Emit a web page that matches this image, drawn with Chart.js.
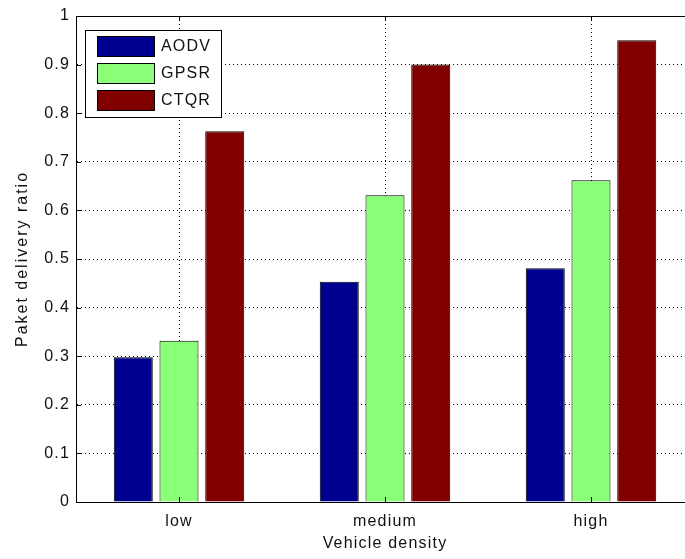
<!DOCTYPE html>
<html>
<head>
<meta charset="utf-8">
<title>Paket delivery ratio vs vehicle density</title>
<script src="https://cdn.jsdelivr.net/npm/chart.js@4/dist/chart.umd.min.js"></script>
<style>
  html, body { margin: 0; padding: 0; background: #fff; overflow: hidden; }
  /* the plot box runs a few pixels past the right edge and is cut off there */
  #frame { width: 685px; height: 559px; overflow: hidden; position: relative; }
  canvas { display: block; }
</style>
</head>
<body>
<div id="frame"><canvas id="chart" width="700" height="559"></canvas></div>
<script>
// Categories and series values
const categories = ['low', 'medium', 'high'];
const seriesNames = ['AODV', 'GPSR', 'CTQR'];
const aodv = [0.298, 0.453, 0.481];
const gpsr = [0.332, 0.631, 0.662];
const ctqr = [0.763, 0.900, 0.950];
const yTicks = [0, 0.1, 0.2, 0.3, 0.4, 0.5, 0.6, 0.7, 0.8, 0.9, 1];

const seriesColors = ['#00008F', '#8CFF78', '#800000'];
const FONT = '"Liberation Sans", Arial, Helvetica, sans-serif';
const SPACING = '1.2px';

// Axes box, inward tick marks, axis titles and boxed legend
const decorations = {
  id: 'decorations',
  beforeDraw(chart) {
    chart.ctx.letterSpacing = SPACING;
  },
  afterDraw(chart) {
    const { ctx, chartArea: a, scales } = chart;
    ctx.save();
    ctx.letterSpacing = SPACING;
    ctx.strokeStyle = '#000';
    ctx.lineWidth = 1;
    ctx.setLineDash([]);
    // box
    ctx.strokeRect(Math.round(a.left) + 0.5, Math.round(a.top) + 0.5,
                   Math.round(a.right - a.left), Math.round(a.bottom - a.top));
    // inward ticks
    const tl = 5;
    ctx.beginPath();
    yTicks.forEach(v => {
      const y = Math.round(scales.y.getPixelForValue(v)) + 0.5;
      ctx.moveTo(a.left, y); ctx.lineTo(a.left + tl, y);
      ctx.moveTo(a.right, y); ctx.lineTo(a.right - tl, y);
    });
    categories.forEach((c, i) => {
      const x = Math.round(scales.x.getPixelForValue(i)) + 0.5;
      ctx.moveTo(x, a.bottom); ctx.lineTo(x, a.bottom - tl);
      ctx.moveTo(x, a.top); ctx.lineTo(x, a.top + tl);
    });
    ctx.stroke();

    // axis titles
    ctx.fillStyle = '#111';
    ctx.font = '16px ' + FONT;
    ctx.textAlign = 'center';
    ctx.textBaseline = 'alphabetic';
    ctx.fillText('Vehicle density', (a.left + a.right) / 2, 548);
    ctx.save();
    ctx.translate(27, (a.top + a.bottom) / 2);
    ctx.rotate(-Math.PI / 2);
    ctx.letterSpacing = '2px';
    ctx.fillText('Paket delivery ratio', 0, 0);
    ctx.restore();

    // legend
    const lx = a.left + 9, ly = a.top + 14, lw = 136, lh = 87;
    ctx.fillStyle = '#fff';
    ctx.fillRect(lx, ly, lw, lh);
    ctx.strokeRect(lx + 0.5, ly + 0.5, lw, lh);
    chart.data.datasets.forEach((ds, i) => {
      const sy = ly + 6 + i * 27;
      ctx.fillStyle = ds.backgroundColor;
      ctx.fillRect(lx + 12, sy, 57, 20);
      ctx.strokeRect(lx + 12.5, sy + 0.5, 57, 20);
      ctx.fillStyle = '#111';
      ctx.textAlign = 'left';
      ctx.textBaseline = 'middle';
      ctx.fillText(ds.label, lx + 76, sy + 11);
    });
    ctx.restore();
  }
};

const chart = new Chart(document.getElementById('chart'), {
  type: 'bar',
  data: {
    labels: categories,
    datasets: [aodv, gpsr, ctqr].map((vals, i) => ({
      label: seriesNames[i],
      data: vals,
      backgroundColor: seriesColors[i],
      borderColor: '#000',
      borderWidth: 1,
      categoryPercentage: 0.666,
      barPercentage: 0.853
    }))
  },
  options: {
    responsive: false,
    animation: false,
    devicePixelRatio: 1,
    layout: { padding: { top: 16, right: 6, left: 0, bottom: 0 } },
    plugins: {
      legend: { display: false },
      tooltip: { enabled: false },
      title: { display: false }
    },
    scales: {
      x: {
        offset: true,
        afterFit(scale) { scale.height = 57; },
        grid: {
          offset: false,
          drawTicks: false,
          color: '#000',
          lineWidth: 1
        },
        border: { display: true, color: '#000', dash: [1, 3] },
        ticks: {
          padding: 10,
          color: '#111',
          font: { family: FONT, size: 16 }
        }
      },
      y: {
        min: 0,
        max: 1,
        afterFit(scale) { scale.width = 76; },
        afterBuildTicks(scale) { scale.ticks = yTicks.map(v => ({ value: v })); },
        grid: {
          drawTicks: false,
          color: ctx => (ctx.tick && (ctx.tick.value === 0 || ctx.tick.value === 1)) ? 'rgba(0,0,0,0)' : '#000',
          lineWidth: 1
        },
        border: { display: true, color: '#000', dash: [1, 3] },
        ticks: {
          padding: 6,
          color: '#111',
          font: { family: FONT, size: 16 },
          callback: v => String(Math.round(v * 10) / 10)
        }
      }
    }
  },
  plugins: [decorations]
});
</script>
</body>
</html>
